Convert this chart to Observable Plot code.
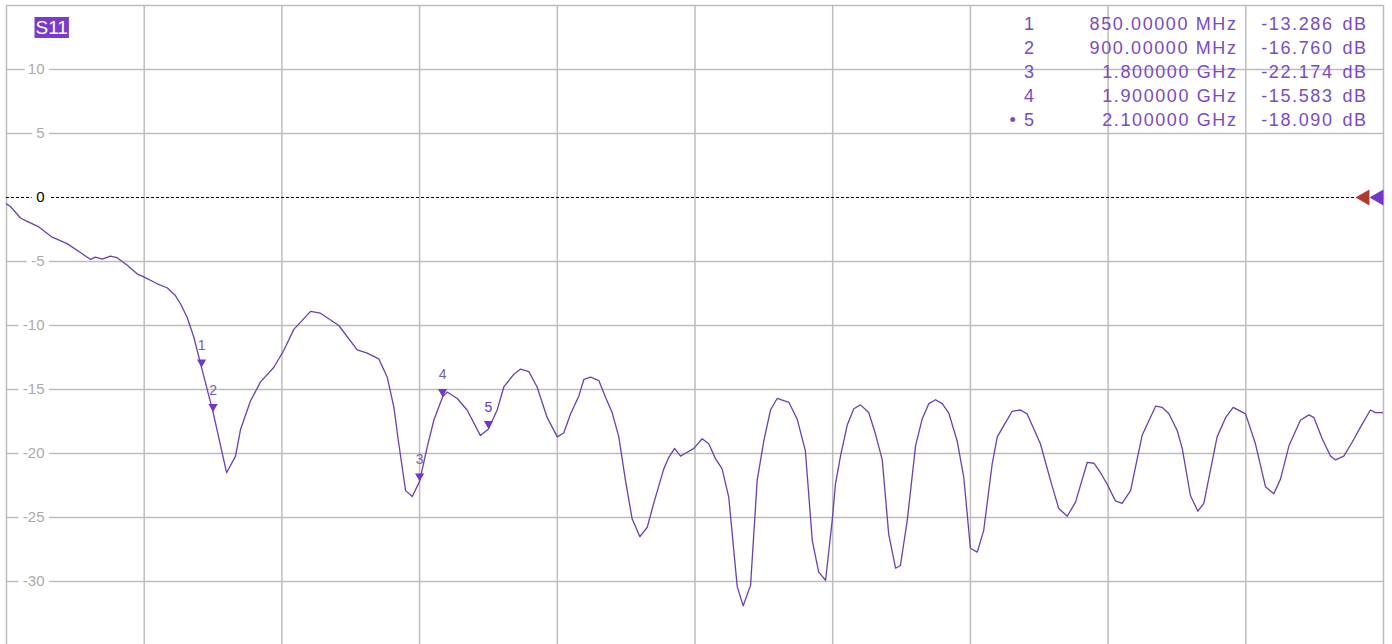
<!DOCTYPE html>
<html><head><meta charset="utf-8">
<script src="https://cdn.jsdelivr.net/npm/d3@7"></script>
<script src="https://cdn.jsdelivr.net/npm/@observablehq/plot@0.6"></script>
<style>
html,body{margin:0;padding:0;background:#fff;}
#chart{position:relative;width:1392px;height:644px;overflow:hidden;}
svg{display:block;}
</style></head><body><div id="chart"></div>
<script>
// Frequency (GHz) and S11 (dB)
const freqGHz = [0, 0.017, 0.061, 0.083, 0.141, 0.199, 0.264, 0.322, 0.366, 0.388,
  0.417, 0.453, 0.482, 0.526, 0.569, 0.598, 0.657, 0.700, 0.736, 0.758,
  0.787, 0.816, 0.85, 0.9, 0.959, 0.998, 1.020, 1.063, 1.107, 1.165,
  1.208, 1.252, 1.325, 1.368, 1.448, 1.528, 1.572, 1.622, 1.659, 1.688,
  1.709, 1.739, 1.768, 1.8, 1.833, 1.862, 1.9, 1.920, 1.964, 2.007,
  2.065, 2.1, 2.138, 2.167, 2.211, 2.240, 2.276, 2.312, 2.356, 2.400,
  2.428, 2.458, 2.494, 2.516, 2.545, 2.581, 2.610, 2.639, 2.668, 2.697,
  2.726, 2.760, 2.792, 2.820, 2.864, 2.886, 2.911, 2.937, 2.966, 2.995,
  3.031, 3.060, 3.089, 3.118, 3.147, 3.184, 3.210, 3.242, 3.271, 3.300,
  3.329, 3.358, 3.409, 3.445, 3.481, 3.511, 3.539, 3.569, 3.598, 3.612,
  3.634, 3.663, 3.692, 3.721, 3.757, 3.786, 3.816, 3.844, 3.874, 3.895,
  3.925, 3.961, 3.990, 4.019, 4.048, 4.077, 4.106, 4.142, 4.171, 4.186,
  4.200, 4.230, 4.258, 4.295, 4.317, 4.346, 4.382, 4.418, 4.447, 4.505,
  4.549, 4.585, 4.622, 4.658, 4.709, 4.738, 4.767, 4.796, 4.832, 4.861,
  4.898, 4.948, 5.007, 5.036, 5.065, 5.101, 5.123, 5.159, 5.191, 5.217,
  5.275, 5.312, 5.345, 5.399, 5.442, 5.486, 5.522, 5.551, 5.588, 5.638,
  5.675, 5.697, 5.733, 5.769, 5.791, 5.827, 5.864, 5.907, 5.943, 5.965,
  6.0];
const s11dB = [-0.5, -0.7, -1.6, -1.8, -2.3, -3.1, -3.6, -4.3, -4.84, -4.66,
  -4.82, -4.58, -4.7, -5.3, -5.96, -6.2, -6.74, -7.05, -7.66, -8.3,
  -9.35, -10.9, -13.286, -16.76, -21.5, -20.2, -18.1, -15.9, -14.4, -13.26,
  -11.95, -10.3, -8.9, -9.04, -10.0, -11.9, -12.16, -12.6, -14.04, -16.4,
  -19.2, -22.9, -23.36, -22.174, -19.5, -17.4, -15.583, -15.2, -15.7, -16.6,
  -18.6, -18.09, -16.6, -14.8, -13.8, -13.4, -13.6, -14.8, -17.2, -18.7,
  -18.4, -16.9, -15.5, -14.2, -14.04, -14.3, -15.6, -16.8, -18.7, -22.1,
  -25.1, -26.5, -25.76, -23.9, -21.2, -20.3, -19.6, -20.2, -19.9, -19.6,
  -18.85, -19.24, -20.4, -21.2, -23.4, -30.4, -31.9, -30.3, -22.1, -19.0,
  -16.6, -15.7, -16.0, -17.3, -19.8, -26.8, -29.27, -29.9, -25.2, -22.4,
  -20.2, -17.8, -16.5, -16.2, -16.8, -18.46, -20.5, -26.3, -28.96, -28.75,
  -25.2, -19.4, -17.3, -16.1, -15.8, -16.1, -16.85, -19.0, -21.85, -24.7,
  -27.4, -27.7, -26.0, -20.8, -18.7, -17.8, -16.7, -16.6, -16.9, -19.24,
  -22.1, -24.3, -24.9, -23.8, -20.7, -20.76, -21.5, -22.4, -23.7, -23.9,
  -22.9, -18.6, -16.3, -16.4, -16.9, -18.2, -19.6, -23.3, -24.5, -23.9,
  -18.7, -17.2, -16.4, -16.9, -19.24, -22.6, -23.15, -22.0, -19.4, -17.4,
  -16.98, -17.2, -18.85, -20.2, -20.5, -20.2, -19.1, -17.7, -16.6, -16.8,
  -16.8];

// Markers
const markerNo = [1, 2, 3, 4, 5];
const markerFreqGHz = [0.85, 0.9, 1.8, 1.9, 2.1];
const markerDb = [-13.286, -16.760, -22.174, -15.583, -18.090];
const markerFreqLabel = ["850.00000 MHz", "900.00000 MHz", "1.800000 GHz", "1.900000 GHz", "2.100000 GHz"];
const markerDbLabel = ["-13.286", "-16.760", "-22.174", "-15.583", "-18.090"];
const activeMarker = 5;

// Grid / ticks
const xGridGHz = [0, 0.6, 1.2, 1.8, 2.4, 3.0, 3.6, 4.2, 4.8, 5.4, 6.0];
const yGridDb = [15, 10, 5, 0, -5, -10, -15, -20, -25, -30, -35];
const yTickLabels = [10, 5, 0, -5, -10, -15, -20, -25, -30];
const refLevel = 0;
const traceName = "S11";

const trace = freqGHz.map((f, i) => ({f, db: s11dB[i]}));
const markers = markerNo.map((n, i) => ({n, f: markerFreqGHz[i], db: markerDb[i]}));

const purple = "#6b41a8";
const markerPurple = "#7436c8";
const tableColor = "#7a4bbf";
const gridColor = "#bdbdbd";

const numCol = markerNo.map(n => (n === activeMarker ? "\u2022 " : "") + n).join("\n");
const freqCol = markerFreqLabel.join("\n");
const dbCol = markerDbLabel.join("\n");
const unitCol = markerNo.map(() => "dB").join("\n");

const tableCommon = {frameAnchor: "top-right", lineAnchor: "top", dy: 7, fontSize: 18, lineHeight: 1.333, fill: tableColor, className: "tbl"};

const chart = Plot.plot({
  width: 1392, height: 644,
  marginLeft: 6, marginRight: 9, marginTop: 5, marginBottom: 0,
  x: {domain: [0, 6], axis: null},
  y: {domain: [-34.92, 15], axis: null},
  style: {background: "#fff", fontFamily: "'Liberation Sans', Arial, sans-serif"},
  marks: [
    Plot.ruleX(xGridGHz, {stroke: gridColor, strokeWidth: 1.5}),
    Plot.ruleY(yGridDb.filter(v => v !== refLevel), {stroke: gridColor, strokeWidth: 1.5}),
    Plot.ruleY([refLevel], {stroke: "#000", strokeWidth: 1, strokeDasharray: "3,2"}),
    // marker table
    Plot.text([numCol], {...tableCommon, text: d => d, textAnchor: "end", dx: -348}),
    Plot.text([freqCol], {...tableCommon, text: d => d, textAnchor: "end", dx: -146}),
    Plot.text([dbCol], {...tableCommon, text: d => d, textAnchor: "end", dx: -50}),
    Plot.text([unitCol], {...tableCommon, text: d => d, textAnchor: "start", dx: -41}),
    // trace
    Plot.line(trace, {x: "f", y: "db", stroke: purple, strokeWidth: 1.3, clip: true}),
    // y labels
    Plot.text(yTickLabels.filter(v => v !== refLevel), {y: d => d, text: d => String(d), frameAnchor: "left", dx: 38, textAnchor: "end", fill: "#ababab", stroke: "white", strokeWidth: 10, paintOrder: "stroke", fontSize: 15}),
    Plot.text([refLevel], {y: d => d, text: d => String(d), frameAnchor: "left", dx: 38, textAnchor: "end", fill: "#000", stroke: "white", strokeWidth: 10, paintOrder: "stroke", fontSize: 15}),
    // markers
    Plot.dot(markers, {x: "f", y: "db", symbol: "triangle2", rotate: 180, r: 4.4, dy: -5.3, fill: markerPurple, stroke: "none"}),
    Plot.text(markers, {x: "f", y: "db", text: d => String(d.n), dy: -22, fontSize: 14, fill: d => d.n === activeMarker ? "#6a35c0" : "#7a5cae", fontWeight: d => d.n === activeMarker ? "bold" : "normal"}),
    // reference level arrows
    Plot.dot([refLevel], {y: d => d, frameAnchor: "right", dx: -18.7, symbol: "triangle2", rotate: -90, r: 7.7, fill: "#b23a2a", stroke: "none"}),
    Plot.dot([refLevel], {y: d => d, frameAnchor: "right", dx: -4.7, symbol: "triangle2", rotate: -90, r: 7.7, fill: markerPurple, stroke: "none"}),
    // trace tag
    Plot.text([traceName], {text: d => d, frameAnchor: "top-left", dx: 29, dy: 15, lineAnchor: "top", textAnchor: "start", fill: "white", fontSize: 19, className: "s11tag"})
  ]
});
document.getElementById("chart").append(chart);

d3.select(chart).selectAll("g.tbl text")
  .style("font-size", "18px")
  .style("letter-spacing", "1.6px");
const tagText = d3.select(chart).select("g.s11tag text").node();
if (tagText) {
  const bb = tagText.getBBox();
  d3.select(tagText.parentNode).insert("rect", "text")
    .attr("transform", tagText.getAttribute("transform"))
    .attr("x", bb.x - 1).attr("y", bb.y).attr("width", bb.width + 2).attr("height", bb.height)
    .attr("fill", "#7a3cc8");
}
</script>
</body></html>
